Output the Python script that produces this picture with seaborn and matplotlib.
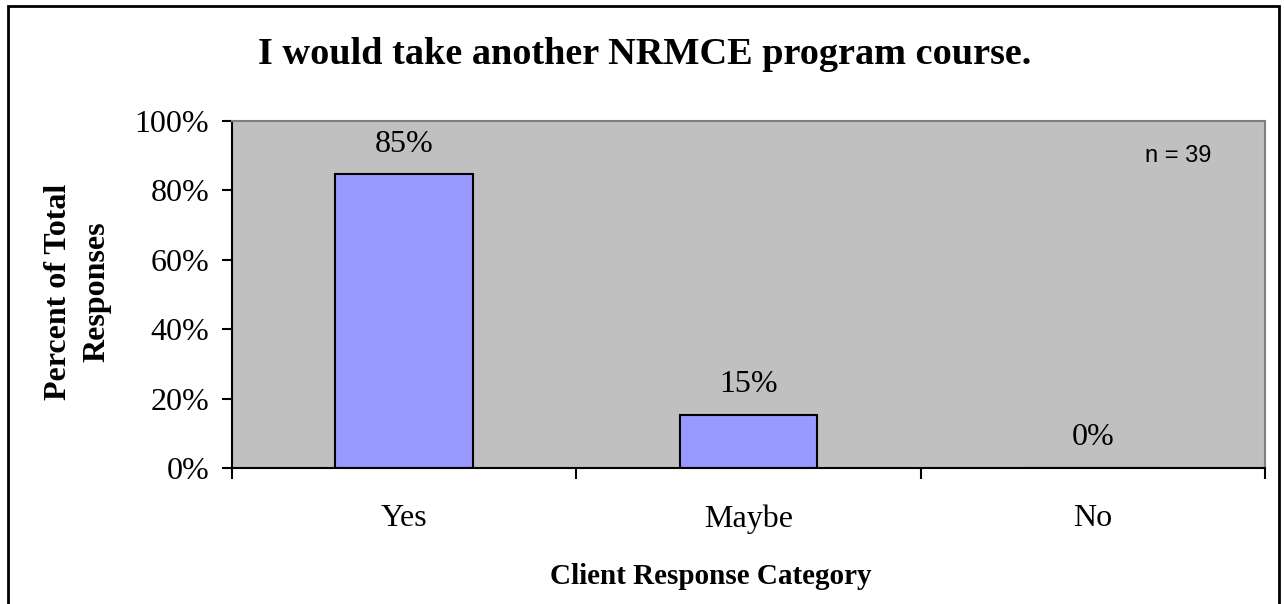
import matplotlib
matplotlib.use("Agg")
import matplotlib.pyplot as plt
import seaborn as sns
import pandas as pd
from matplotlib.patches import Rectangle
from matplotlib.ticker import FixedLocator, PercentFormatter

categories = ["Yes", "Maybe", "No"]
percents = [84.6, 15.4, 0.0]
bar_labels = ["85%", "15%", "0%"]
y_ticks = [0, 20, 40, 60, 80, 100]
title = "I would take another NRMCE program course."
xlabel = "Client Response Category"
ylabel = "Percent of Total\nResponses"
note = "n = 39"

sns.set_theme(style="white")
plt.rcParams['font.family'] = ['Liberation Serif', 'DejaVu Serif']
plt.rcParams['text.color'] = 'black'
plt.rcParams['axes.labelcolor'] = 'black'
plt.rcParams['xtick.color'] = 'black'
plt.rcParams['ytick.color'] = 'black'

fig = plt.figure(figsize=(12.84, 6.04), dpi=100)
ax = fig.add_axes([232/1284, 1-468/604, (1265-232)/1284, (468-121)/604])
ax.set_facecolor("#C0C0C0")

df = pd.DataFrame({"cat": categories, "pct": percents})
sns.barplot(data=df, x="cat", y="pct", ax=ax, color="#9999FF", width=0.4,
            edgecolor="black", linewidth=1.5, saturation=1)

ax.set_xlim(-0.5, 2.5)
ax.set_ylim(0, 100)
ax.yaxis.set_major_locator(FixedLocator(y_ticks))
ax.yaxis.set_major_formatter(PercentFormatter(decimals=0))
ax.tick_params(axis="y", which="major", direction="out", length=7.5, width=1.5,
               labelsize=23, pad=9, left=True)
ax.tick_params(axis="x", which="major", length=0, labelsize=23, pad=26)
ax.xaxis.set_minor_locator(FixedLocator([-0.5, 0.5, 1.5, 2.5]))
ax.tick_params(axis="x", which="minor", direction="out", length=8, width=1.5,
               bottom=True)

for s in ["left", "bottom"]:
    ax.spines[s].set_color("black")
    ax.spines[s].set_linewidth(1.5)
for s in ["top", "right"]:
    ax.spines[s].set_color("#808080")
    ax.spines[s].set_linewidth(1.5)

for i, (v, lab) in enumerate(zip(percents, bar_labels)):
    ax.annotate(lab, xy=(i, v), xytext=(0, 16.5), textcoords="offset points",
                ha="center", va="baseline", fontsize=23)

ax.set_xlabel(xlabel, fontsize=21, fontweight="bold")
ax.xaxis.set_label_coords((711 - 232) / 1033, (468 - 576) / 347)
ax.xaxis.label.set_va("center")
ax.set_ylabel(ylabel, fontsize=23, fontweight="bold", linespacing=1.42)
ax.yaxis.set_label_coords((77.5 - 232) / 1033, (468 - 292) / 347)
ax.yaxis.label.set_va("center")

fig.text(645 / 1284, 1 - 55 / 604, title, ha="center", va="center",
         fontsize=27.5, fontweight="bold")
ax.text((1211 - 232) / 1033, (468 - 155.5) / 347, note, transform=ax.transAxes,
        ha="right", va="center", fontsize=17, family=["Liberation Sans", "DejaVu Sans"])

fig.patches.append(Rectangle((8/1284, -0.01), (1279-8)/1284, 1-6/604 + 0.01,
                             transform=fig.transFigure, fill=False,
                             edgecolor="black", linewidth=2))

fig.savefig("out.png", dpi=100)
